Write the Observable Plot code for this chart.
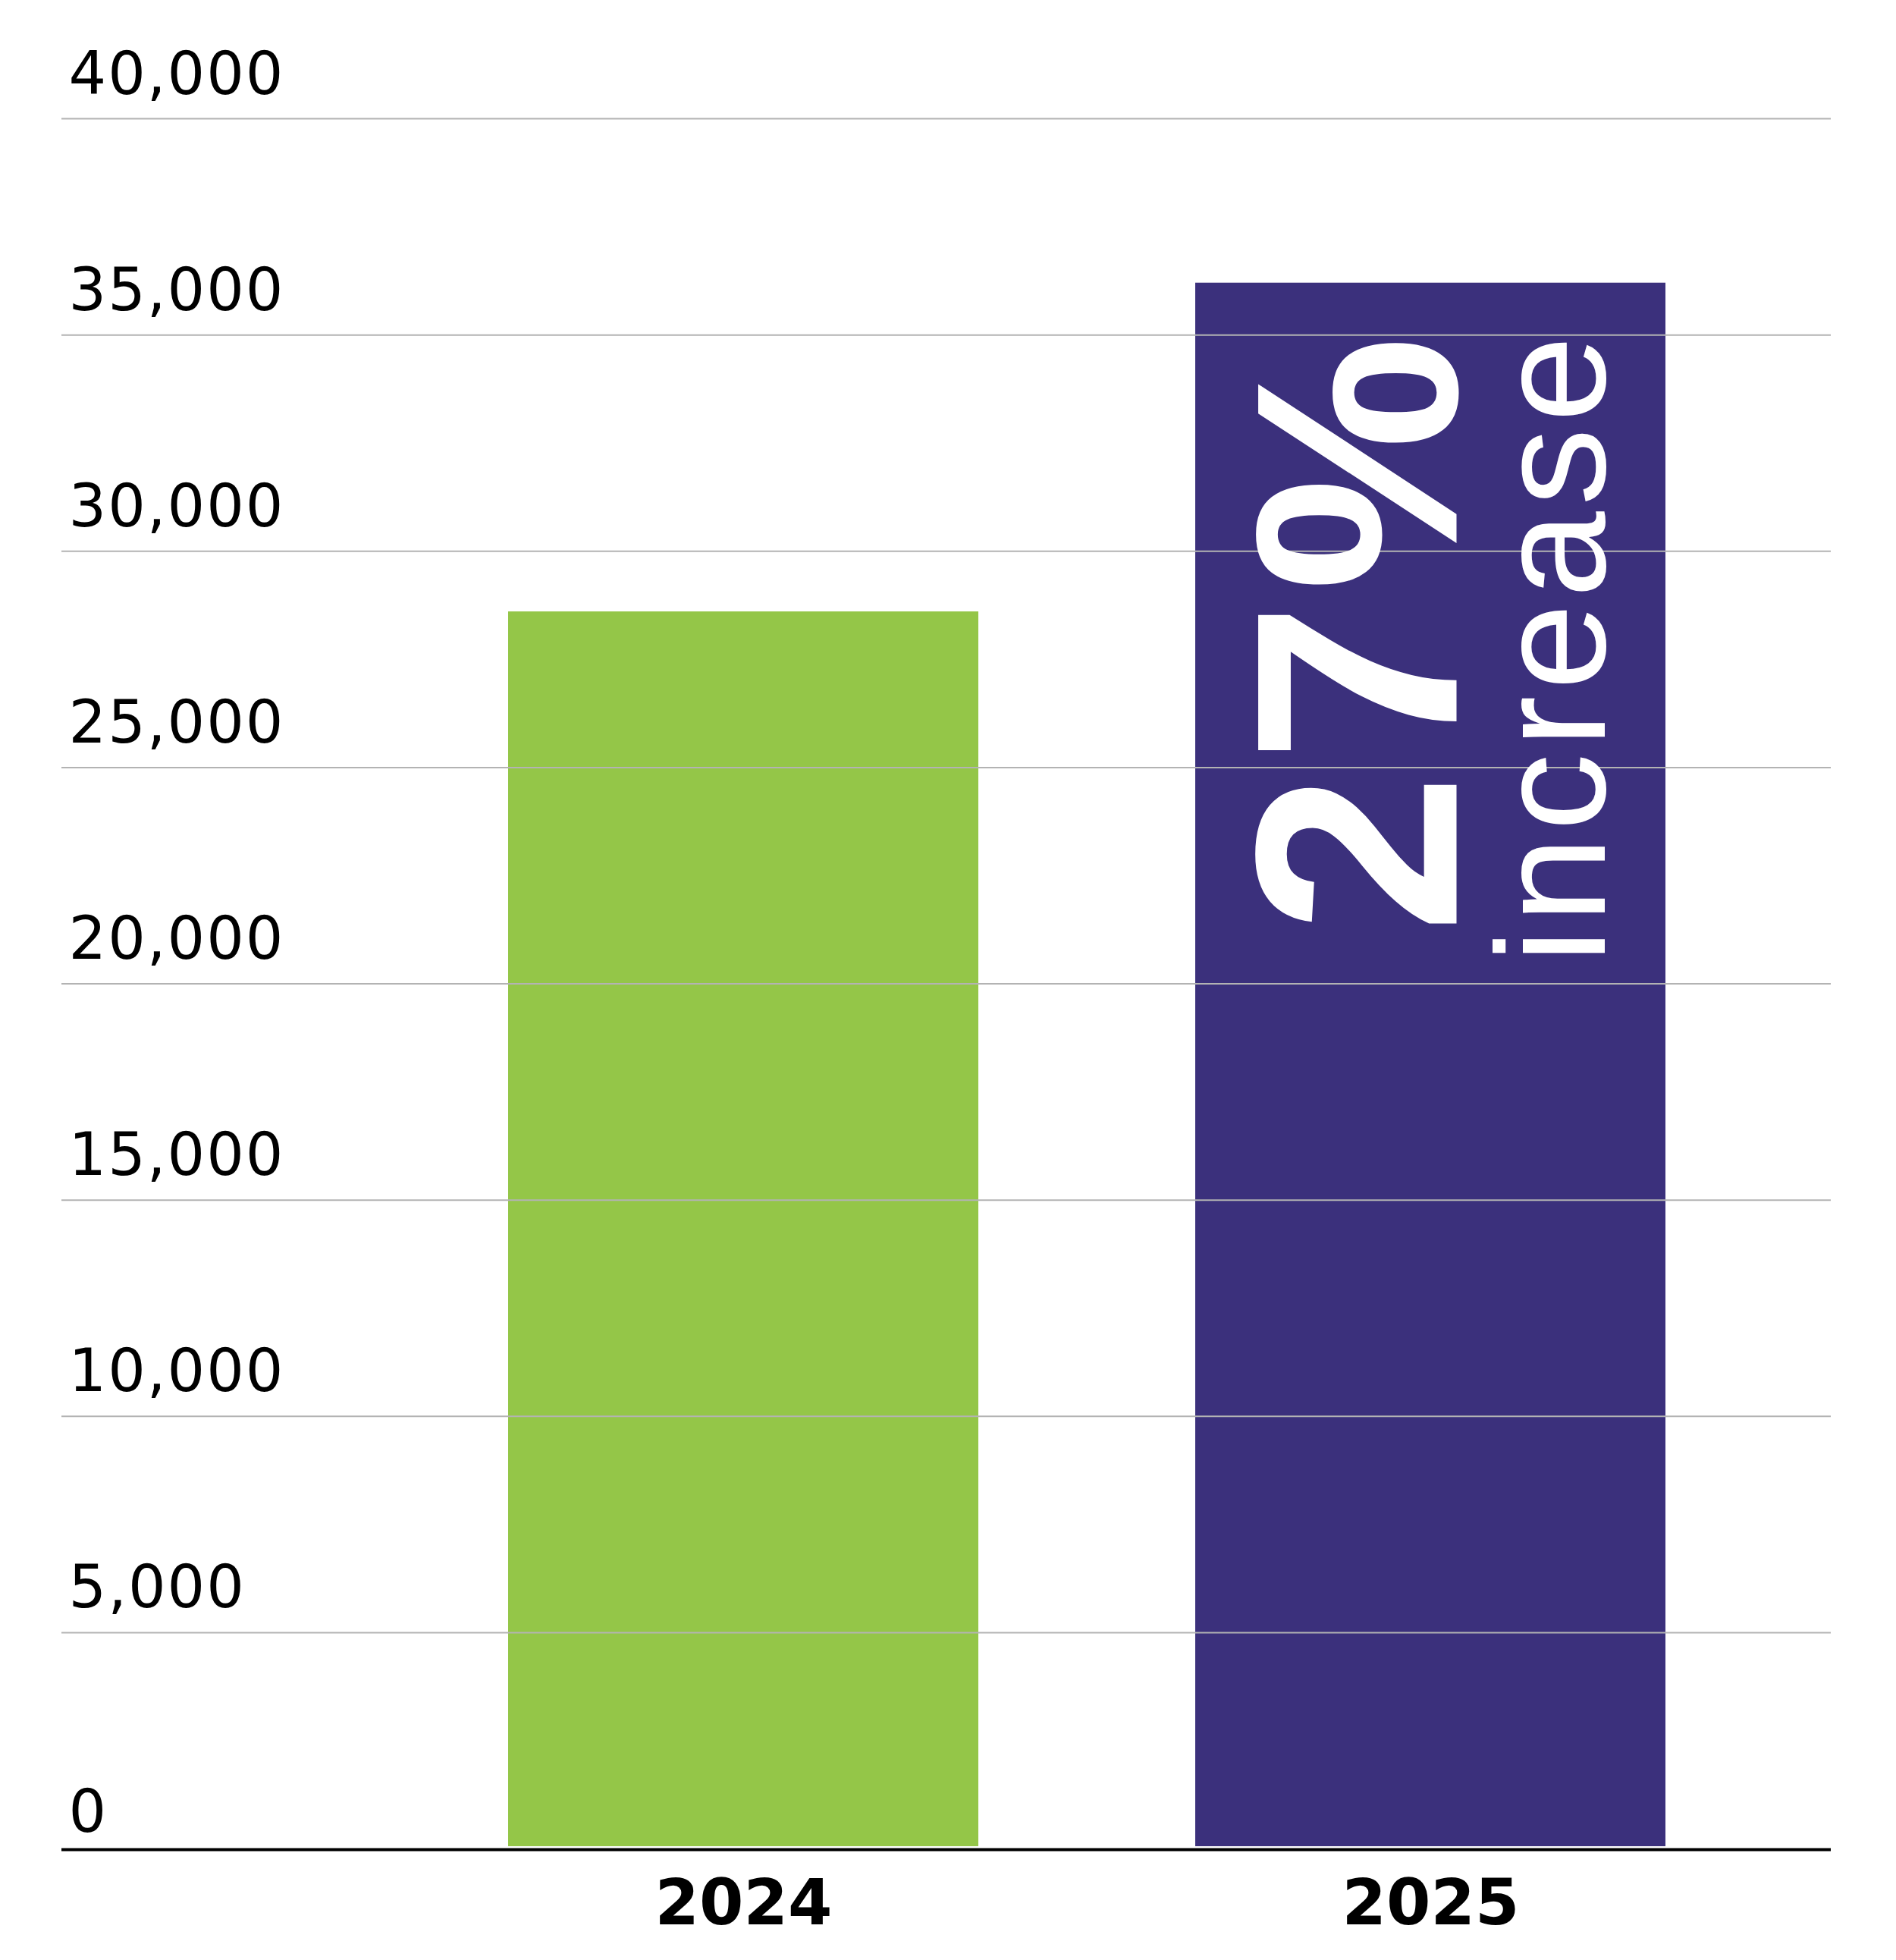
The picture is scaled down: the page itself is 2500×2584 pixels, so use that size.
<!DOCTYPE html>
<html>
<head>
<meta charset="utf-8">
<script src="https://cdn.jsdelivr.net/npm/d3@7"></script>
<script src="https://cdn.jsdelivr.net/npm/@observablehq/plot@0.6"></script>
<style>
html, body { margin: 0; padding: 0; background: #ffffff; }
#chart svg { display: block; }
</style>
</head>
<body>
<div id="chart"></div>
<script>
// ---- data ----
const years = ["2024", "2025"];
const values = [28600, 36200];
const barColors = ["#94C648", "#3B307C"];
const yTicks = [0, 5000, 10000, 15000, 20000, 25000, 30000, 35000, 40000];
const annotationYear = "2025";
const annotationBig = "27%";
const annotationSmall = "increase";

// ---- table built from the arrays ----
const bars = years.map((y, i) => ({ year: y, value: values[i], color: barColors[i] }));
const ann = bars.filter(d => d.year === annotationYear);
const fmt = d3.format(",");

const chart = Plot.plot({
  width: 2500,
  height: 2584,
  marginTop: 156,
  marginBottom: 147,
  marginLeft: 81,
  marginRight: 86,
  style: { fontFamily: "DejaVu Sans", background: "#ffffff", color: "#000000" },
  x: { domain: years, paddingInner: 0.316, paddingOuter: 0.445, align: 0.73 },
  y: { domain: [0, 40000], axis: null },
  marks: [
    Plot.barY(bars, { x: "year", y: "value", fill: "color", insetBottom: 3 }),
    Plot.ruleY(yTicks.filter(d => d > 0), { stroke: "#b3b3b3", strokeWidth: 2 }),
    Plot.ruleY([0], { stroke: "#000000", strokeWidth: 4, dy: 1 }),
    Plot.text(yTicks.filter(d => d > 0), {
      y: d => d, text: d => fmt(d), frameAnchor: "left", textAnchor: "start",
      lineAnchor: "bottom", dx: 9, dy: -33, fontSize: 78, fill: "#000000"
    }),
    Plot.text(yTicks.filter(d => d === 0), {
      y: d => d, text: d => fmt(d), frameAnchor: "left", textAnchor: "start",
      lineAnchor: "bottom", dx: 9, dy: -23, fontSize: 78, fill: "#000000"
    }),
    Plot.axisX({ tickSize: 0, tickPadding: 40, fontSize: 84, fontWeight: "bold", label: null }),
    Plot.text(ann, {
      x: "year", y: "value", text: () => annotationBig, rotate: -90,
      textAnchor: "end", lineAnchor: "bottom", dx: 34, dy: 55,
      fontSize: 380, fontWeight: "bold", fill: "#ffffff", fontFamily: "Liberation Sans"
    }),
    Plot.text(ann, {
      x: "year", y: "value", text: () => annotationSmall, rotate: -90,
      textAnchor: "end", lineAnchor: "bottom", dx: 229, dy: 62,
      fontSize: 205, fontWeight: "normal", fill: "#ffffff", fontFamily: "Liberation Sans"
    })
  ]
});

// letter spacing (styling only)
const tickTexts = new Set(yTicks.map(fmt));
d3.select(chart).selectAll("text").each(function () {
  const t = this.textContent;
  if (tickTexts.has(t)) this.style.letterSpacing = "2px";
  else if (t === annotationBig) this.style.letterSpacing = "14px";
  else if (t === annotationSmall) this.style.letterSpacing = "7.5px";
});
document.getElementById("chart").appendChild(chart);
</script>
</body>
</html>
